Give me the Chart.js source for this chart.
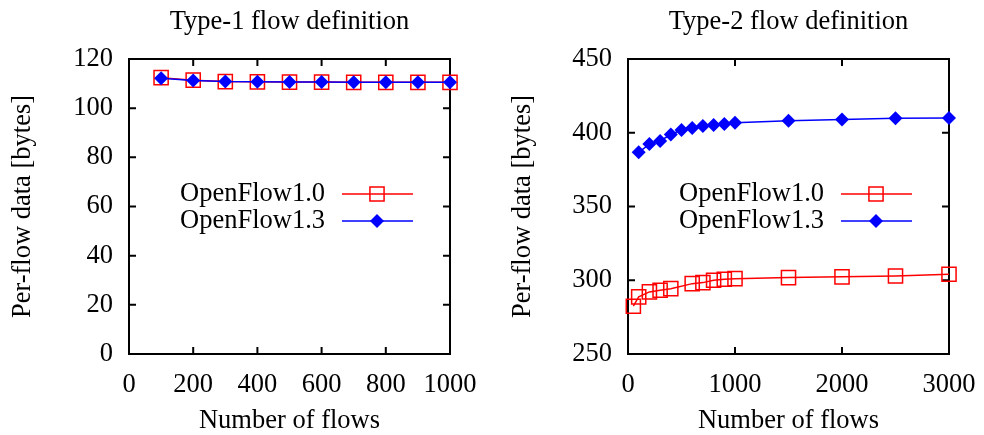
<!DOCTYPE html>
<html>
<head>
<meta charset="utf-8">
<script src="https://cdn.jsdelivr.net/npm/chart.js@4.4.0/dist/chart.umd.min.js"></script>
<style>
  html, body { margin: 0; padding: 0; background: #fff; }
  #wrap { position: relative; width: 984px; height: 435px; }
  .box { position: absolute; top: 0; width: 492px; height: 435px; }
</style>
</head>
<body>
<div id="wrap">
  <div class="box" style="left:0"><canvas id="type1Chart" width="492" height="435"></canvas></div>
  <div class="box" style="left:492px"><canvas id="type2Chart" width="492" height="435"></canvas></div>
</div>
<script>
// Type-1 flow definition
const flowsType1 = [100, 200, 300, 400, 500, 600, 700, 800, 900, 1000];
const of10Type1 = [112.4, 111.4, 110.8, 110.7, 110.6, 110.6, 110.5, 110.5, 110.5, 110.5];
const of13Type1 = [112.2, 111.3, 110.8, 110.7, 110.6, 110.6, 110.5, 110.5, 110.5, 110.5];

// Type-2 flow definition
const flowsType2Of10 = [50, 100, 200, 300, 400, 600, 700, 800, 900, 1000, 1500, 2000, 2500, 3000];
const of10Type2 = [282.4, 288.7, 292.1, 293.2, 294.3, 297.7, 298.4, 300.0, 300.7, 301.1, 301.8, 302.3, 302.9, 304.1];
const flowsType2Of13 = [100, 200, 300, 400, 500, 600, 700, 800, 900, 1000, 1500, 2000, 2500, 3000];
const of13Type2 = [386.7, 392.3, 394.4, 398.8, 401.8, 403.2, 404.5, 405.2, 405.9, 406.8, 408.1, 409.0, 409.8, 410.0];

// tick labels
const xTicksType1 = [0, 200, 400, 600, 800, 1000];
const yTicksType1 = [0, 20, 40, 60, 80, 100, 120];
const xTicksType2 = [0, 1000, 2000, 3000];
const yTicksType2 = [250, 300, 350, 400, 450];

const FONT = '"Liberation Serif", "Times New Roman", serif';
const FS = 26.5;

function toPoints(xs, ys) {
    return xs.map((x, i) => ({ x: x, y: ys[i] }));
}

// gnuplot style frame: box + inward ticks on all four sides
const framePlugin = {
    id: 'frame',
    beforeDatasetsDraw(chart) {
        const { ctx, chartArea: a, scales } = chart;
        ctx.save();
        ctx.strokeStyle = '#000';
        ctx.lineWidth = 2;
        ctx.beginPath();
        scales.x.ticks.forEach(t => {
            const px = scales.x.getPixelForValue(t.value);
            ctx.moveTo(px, a.bottom); ctx.lineTo(px, a.bottom - 7);
            ctx.moveTo(px, a.top); ctx.lineTo(px, a.top + 7);
        });
        scales.y.ticks.forEach(t => {
            const py = scales.y.getPixelForValue(t.value);
            ctx.moveTo(a.left, py); ctx.lineTo(a.left + 7, py);
            ctx.moveTo(a.right, py); ctx.lineTo(a.right - 7, py);
        });
        ctx.stroke();
        ctx.strokeRect(a.left, a.top, a.right - a.left, a.bottom - a.top);
        ctx.restore();
    },
    afterDraw(chart) {
        // legend inside the plot, text on the left, sample on the right
        const { ctx, chartArea: a } = chart;
        ctx.save();
        ctx.font = FS + 'px ' + FONT;
        ctx.textAlign = 'right';
        ctx.textBaseline = 'middle';
        chart.data.datasets.forEach((ds, i) => {
            const y = a.top + 135 + i * 27;
            ctx.fillStyle = '#000';
            ctx.fillText(ds.label, a.left + 196, y);
            ctx.strokeStyle = ds.borderColor;
            ctx.lineWidth = ds.borderWidth;
            ctx.beginPath();
            ctx.moveTo(a.left + 213, y);
            ctx.lineTo(a.left + 284, y);
            ctx.stroke();
            ctx.fillStyle = ds.pointBackgroundColor;
            ctx.strokeStyle = ds.pointBorderColor;
            ctx.lineWidth = ds.pointBorderWidth;
            Chart.helpers.drawPoint(ctx, {
                pointStyle: ds.pointStyle,
                radius: ds.pointRadius,
                borderWidth: ds.pointBorderWidth,
                rotation: 0
            }, a.left + 248, y);
        });
        ctx.restore();
    }
};

function makeDatasets(of10, of13) {
    return [
        {
            label: 'OpenFlow1.0',
            data: of10,
            borderColor: '#ff0000',
            borderWidth: 1.5,
            pointStyle: 'rect',
            pointRadius: 10,
            pointBorderWidth: 1.5,
            pointBorderColor: '#ff0000',
            pointBackgroundColor: 'rgba(0,0,0,0)',
            tension: 0,
            clip: false,
            order: 1
        },
        {
            label: 'OpenFlow1.3',
            data: of13,
            borderColor: '#0000ff',
            borderWidth: 1.5,
            pointStyle: 'rectRot',
            pointRadius: 7,
            pointBorderWidth: 0,
            pointBorderColor: '#0000ff',
            pointBackgroundColor: '#0000ff',
            tension: 0,
            clip: false,
            order: 0
        }
    ];
}

function makeOptions(title, xTicks, yTicks, yWidth, padRight, yTitlePad) {
    const tickFont = { family: FONT, size: FS };
    return {
        responsive: false,
        animation: false,
        layout: { padding: { left: 0, right: padRight, top: 0, bottom: 0 } },
        plugins: {
            legend: { display: false },
            tooltip: { enabled: false },
            title: {
                display: true,
                text: title,
                fullSize: false,
                color: '#000',
                font: { family: FONT, size: FS, weight: 'normal' },
                padding: { top: 6, bottom: 21.2 }
            }
        },
        scales: {
            x: {
                type: 'linear',
                min: xTicks[0],
                max: xTicks[xTicks.length - 1],
                afterBuildTicks: s => { s.ticks = xTicks.map(v => ({ value: v })); },
                afterFit: s => {
                    s.height = 81;
                    // last label may hang over the right margin
                    s.paddingLeft = 0;
                    s.paddingRight = 0;
                },
                grid: { display: false, drawTicks: false },
                border: { display: false },
                ticks: {
                    color: '#000', font: tickFont, padding: 15, maxRotation: 0, autoSkip: false,
                    callback: v => String(v)
                },
                title: {
                    display: true,
                    text: 'Number of flows',
                    color: '#000',
                    font: tickFont,
                    padding: { top: 0, bottom: -2 }
                }
            },
            y: {
                type: 'linear',
                min: yTicks[0],
                max: yTicks[yTicks.length - 1],
                afterBuildTicks: s => { s.ticks = yTicks.map(v => ({ value: v })); },
                afterFit: s => { s.width = yWidth; },
                grid: { display: false, drawTicks: false },
                border: { display: false },
                ticks: {
                    color: '#000', font: tickFont, padding: 16, autoSkip: false,
                    callback: v => String(v)
                },
                title: {
                    display: true,
                    text: 'Per-flow data [bytes]',
                    color: '#000',
                    font: tickFont,
                    padding: { top: yTitlePad, bottom: 0 }
                }
            }
        }
    };
}

// Gráfico Type-1
new Chart(document.getElementById('type1Chart').getContext('2d'), {
    type: 'line',
    data: {
        datasets: makeDatasets(toPoints(flowsType1, of10Type1), toPoints(flowsType1, of13Type1))
    },
    options: makeOptions('Type-1 flow definition', xTicksType1, yTicksType1, 129, 42, 7),
    plugins: [framePlugin]
});

// Gráfico Type-2
new Chart(document.getElementById('type2Chart').getContext('2d'), {
    type: 'line',
    data: {
        datasets: makeDatasets(toPoints(flowsType2Of10, of10Type2), toPoints(flowsType2Of13, of13Type2))
    },
    options: makeOptions('Type-2 flow definition', xTicksType2, yTicksType2, 136, 35, 15),
    plugins: [framePlugin]
});
</script>
</body>
</html>
